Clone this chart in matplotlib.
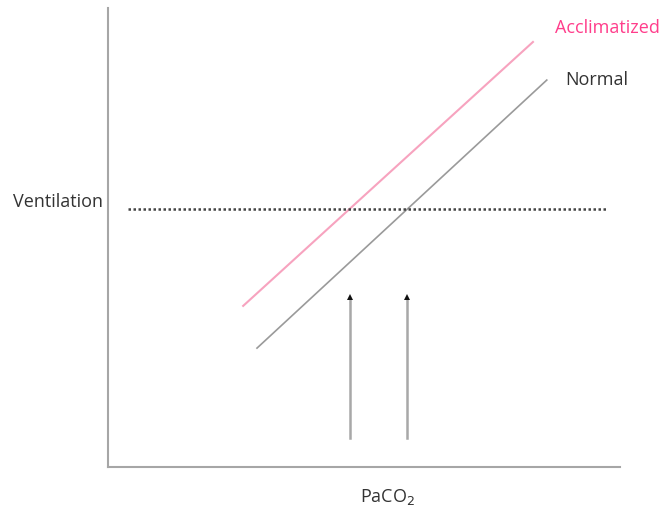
import matplotlib
matplotlib.use("Agg")
import matplotlib.pyplot as plt

# schematic data (arbitrary units, 0-100)
acclim_x = [26.4, 83.0]
acclim_y = [35.1, 92.6]
normal_x = [29.1, 85.7]
normal_y = [25.9, 84.3]
vent_level = 56.2
vent_x = [3.9, 97.5]
arrow_x = [47.3, 58.4]
arrow_y0 = 6.3
arrow_y1 = 37.5

fig = plt.figure(figsize=(6.67, 5.16), dpi=100)
ax = fig.add_axes([108/667, (516-467)/516, 512/667, 459/516])
ax.set_xlim(0, 100)
ax.set_ylim(0, 100)
for s in ['top', 'right']:
    ax.spines[s].set_visible(False)
for s in ['left', 'bottom']:
    ax.spines[s].set_color('#a6a6a6')
    ax.spines[s].set_linewidth(1.5)
ax.set_xticks([])
ax.set_yticks([])

ax.plot(acclim_x, acclim_y, color='#f7a3bf', lw=1.5)
ax.plot(normal_x, normal_y, color='#9a9a9a', lw=1.2)
ax.plot(vent_x, [vent_level, vent_level], color='#444444', lw=1.8, linestyle=(0, (1, 1)))
for xa in arrow_x:
    ax.plot([xa, xa], [arrow_y0, arrow_y1 - 0.8], color='#a8a8a8', lw=1.8)
    ax.plot([xa], [arrow_y1 - 0.4], marker='^', color='#111111', ms=4.5, mew=0)

font = 'Open Sans'
fs = 13
ax.text(97.5, 95.6, 'Acclimatized', color='#ff3d8b', fontsize=fs, family=font,
        ha='center', va='center', clip_on=False)
ax.text(95.5, 84.3, 'Normal', color='#333333', fontsize=fs, family=font,
        ha='center', va='center', clip_on=False)
fig.text(103/667, 1 - 202/516, 'Ventilation', color='#333333', fontsize=fs, family=font,
         ha='right', va='center')
fig.text(388/667, 1 - 497/516, 'PaCO$_2$', color='#333333', fontsize=fs, family=font,
         ha='center', va='center')

fig.savefig('out.png', dpi=100)
